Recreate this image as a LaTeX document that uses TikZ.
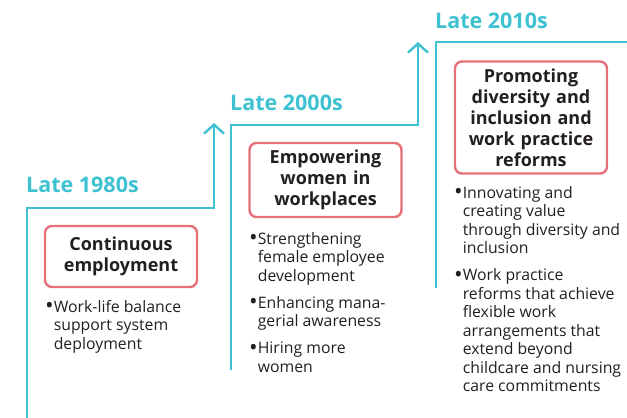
\documentclass[tikz,border=0pt]{standalone}
\usepackage{fontspec}
\setmainfont{Open Sans}
\usetikzlibrary{arrows.meta}
\definecolor{stepcyan}{HTML}{3EC1D1}
\definecolor{boxred}{HTML}{E6707A}
\definecolor{txt}{HTML}{231F20}
\tikzset{
  stepline/.style={draw=stepcyan, line width=2.6pt, line join=miter, -{Straight Barb[length=9pt,width=20pt,line width=2.4pt]}},
  period/.style={text=stepcyan, font=\fontsize{21.5}{24}\selectfont\bfseries, anchor=base west, inner sep=0pt},
  themebox/.style={draw=boxred, line width=2.4pt, rounded corners=7pt, minimum width=152pt, text width=146pt, align=center, inner sep=0pt, text=txt, font=\fontsize{18}{21}\selectfont\bfseries},
  itemlist/.style={anchor=north west, inner sep=0pt, align=left, text=txt, font=\fontsize{15.8}{18.5}\selectfont},
}
\newcommand{\bul}{\raisebox{-1.6pt}{\scalebox{1.45}{•}}}
\newcommand{\ind}{\phantom{\bul}}
\begin{document}
\begin{tikzpicture}[x=1pt,y=-1pt]
\useasboundingbox (0,0) rectangle (627,418);
% step lines
\coordinate (s1) at (27,420);
\coordinate (k1) at (214,208);
\coordinate (t1) at (214,123);
\coordinate (s2) at (231,370);
\coordinate (k2) at (418,125);
\coordinate (t2) at (418,42);
\coordinate (s3) at (436,288);
\coordinate (k3) at (640,42);
\draw[stepline] (s1) |- (k1) -- (t1);
\draw[stepline] (s2) |- (k2) -- (t2);
\draw[stepline,-] (s3) |- (k3);
% period labels
\node[period] (p1) at (26,192) {Late 1980s};
\node[period] (p2) at (230,110) {Late 2000s};
\node[period] (p3) at (435,28) {Late 2010s};
% theme boxes
\node[themebox, minimum height=61pt] (b1) at (121,256.5) {Continuous\\employment};
\node[themebox, minimum height=74pt] (b2) at (325.5,180) {Empowering\\women in\\workplaces};
\node[themebox, minimum height=112pt] (b3) at (531,117.5) {Promoting\\diversity and\\inclusion and\\work practice\\reforms};
% lists
\node[itemlist] (l1) at (45,300) {\bul Work-life balance\\\ind support system\\\ind deployment};
\node[itemlist] (l2) at (249,232) {\bul Strengthening\\\ind female employee\\\ind development\\[8.5pt]\bul Enhancing mana-\\\ind gerial awareness\\[8.5pt]\bul Hiring more\\\ind women};
\node[itemlist] (l3) at (454,186) {\bul Innovating and\\\ind creating value\\\ind through diversity and\\\ind inclusion\\[8.5pt]\bul Work practice\\\ind reforms that achieve\\\ind flexible work\\\ind arrangements that\\\ind extend beyond\\\ind childcare and nursing\\\ind care commitments};
\end{tikzpicture}
\end{document}
